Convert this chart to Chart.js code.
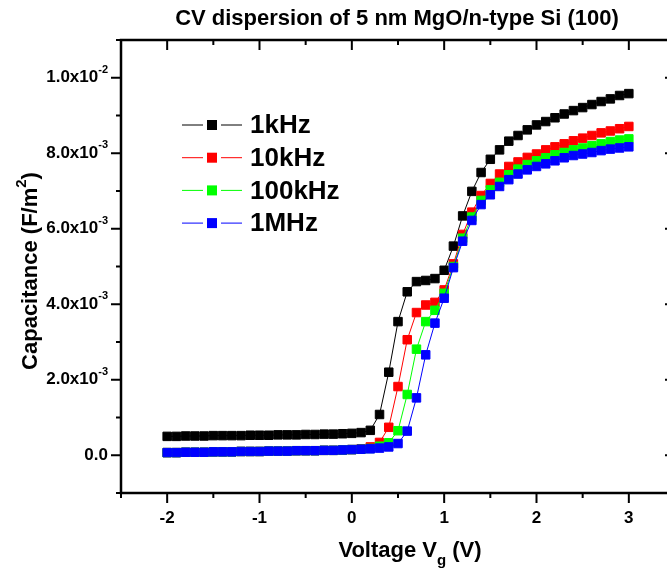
<!DOCTYPE html>
<html>
<head>
<meta charset="utf-8">
<script src="https://cdn.jsdelivr.net/npm/chart.js@4.4.1/dist/chart.umd.min.js"></script>
<style>
  html, body { margin: 0; padding: 0; background: #fff; overflow: hidden; }
  #wrap { width: 690px; height: 572px; }
</style>
</head>
<body>
<div id="wrap"><canvas id="cv" width="690" height="572"></canvas></div>
<script>
// Gate voltage (V)
const voltages = [
  -2.0, -1.9, -1.8, -1.7, -1.6, -1.5, -1.4, -1.3, -1.2, -1.1,
  -1.0, -0.9, -0.8, -0.7, -0.6, -0.5, -0.4, -0.3, -0.2, -0.1,
   0.0,  0.1,  0.2,  0.3,  0.4,  0.5,  0.6,  0.7,  0.8,  0.9,
   1.0,  1.1,  1.2,  1.3,  1.4,  1.5,  1.6,  1.7,  1.8,  1.9,
   2.0,  2.1,  2.2,  2.3,  2.4,  2.5,  2.6,  2.7,  2.8,  2.9,  3.0
];

// Capacitance, in units of 1e-3 F/m^2
const cap1kHz = [
  0.50, 0.50, 0.51, 0.51, 0.51, 0.52, 0.52, 0.52, 0.52, 0.53,
  0.53, 0.53, 0.54, 0.54, 0.54, 0.55, 0.55, 0.56, 0.56, 0.57,
  0.58, 0.60, 0.66, 1.08, 2.20, 3.54, 4.33, 4.60, 4.63, 4.68,
  4.90, 5.54, 6.34, 6.99, 7.49, 7.84, 8.09, 8.32, 8.47, 8.62,
  8.75, 8.84, 8.94, 9.04, 9.13, 9.21, 9.29, 9.37, 9.44, 9.53, 9.58
];
const cap10kHz = [
  0.07, 0.07, 0.08, 0.08, 0.08, 0.09, 0.09, 0.09, 0.10, 0.10,
  0.10, 0.11, 0.11, 0.11, 0.12, 0.12, 0.12, 0.13, 0.13, 0.14,
  0.15, 0.17, 0.22, 0.34, 0.74, 1.82, 3.06, 3.78, 3.98, 4.05,
  4.38, 5.07, 5.85, 6.44, 6.88, 7.20, 7.45, 7.65, 7.77, 7.89,
  7.98, 8.09, 8.17, 8.25, 8.33, 8.40, 8.47, 8.54, 8.59, 8.65, 8.71
];
const cap100kHz = [
  0.07, 0.07, 0.08, 0.08, 0.08, 0.09, 0.09, 0.09, 0.10, 0.10,
  0.10, 0.11, 0.11, 0.11, 0.12, 0.12, 0.12, 0.13, 0.13, 0.14,
  0.15, 0.16, 0.18, 0.24, 0.33, 0.65, 1.61, 2.81, 3.54, 3.84,
  4.29, 5.00, 5.75, 6.31, 6.75, 7.03, 7.23, 7.43, 7.58, 7.70,
  7.80, 7.88, 7.96, 8.02, 8.09, 8.14, 8.20, 8.25, 8.31, 8.35, 8.38
];
const cap1MHz = [
  0.07, 0.07, 0.08, 0.08, 0.08, 0.09, 0.09, 0.09, 0.10, 0.10,
  0.10, 0.11, 0.11, 0.11, 0.12, 0.12, 0.12, 0.13, 0.13, 0.14,
  0.15, 0.16, 0.17, 0.19, 0.22, 0.31, 0.64, 1.52, 2.66, 3.50,
  4.16, 4.97, 5.67, 6.22, 6.64, 6.90, 7.12, 7.30, 7.45, 7.56,
  7.65, 7.72, 7.80, 7.88, 7.94, 7.98, 8.02, 8.07, 8.11, 8.14, 8.17
];

const seriesLabels = ['1kHz', '10kHz', '100kHz', '1MHz'];
const seriesColors = ['#000000', '#ff0000', '#00ff00', '#0000ff'];

// y tick labels (value in 1e-3 units, mantissa, exponent)
const yTickValues = [0, 2, 4, 6, 8, 10];
const yTickMantissa = ['0.0', '2.0', '4.0', '6.0', '8.0', '1.0'];
const yTickExponent = ['', '-3', '-3', '-3', '-3', '-2'];

const titleText = 'CV dispersion of 5 nm MgO/n-type Si (100)';
const FONT = '"Liberation Sans", Arial, sans-serif';

function toPoints(ys) {
  return voltages.map((v, i) => ({ x: v, y: ys[i] }));
}

const allSeries = [cap1kHz, cap10kHz, cap100kHz, cap1MHz];
const datasets = allSeries.map((ys, i) => ({
  label: seriesLabels[i],
  data: toPoints(ys),
  borderColor: seriesColors[i],
  backgroundColor: seriesColors[i],
  borderWidth: 1,
  pointStyle: 'rect',
  pointRadius: 6,
  pointBorderWidth: 1,
  pointBorderColor: seriesColors[i],
  pointBackgroundColor: seriesColors[i],
  showLine: true,
  tension: 0,
  order: 4 - i
}));

// frame, ticks, custom labels, legend and titles
const decorPlugin = {
  id: 'decor',
  afterDraw(chart) {
    const ctx = chart.ctx;
    const { left, right, top, bottom } = chart.chartArea;
    const xs = chart.scales.x;
    const ys = chart.scales.y;
    ctx.save();
    ctx.strokeStyle = '#000';
    ctx.fillStyle = '#000';
    ctx.lineWidth = 2.5;
    ctx.strokeRect(left, top, right - left, bottom - top);

    // x ticks: outward on bottom, inward on top
    ctx.lineWidth = 2;
    xs.ticks.forEach(t => {
      const px = xs.getPixelForValue(t.value);
      const major = Math.abs(t.value - Math.round(t.value)) < 1e-6;
      const len = major ? 10 : 5;
      ctx.beginPath();
      ctx.moveTo(px, bottom);
      ctx.lineTo(px, bottom + len);
      ctx.moveTo(px, top);
      ctx.lineTo(px, top + len);
      ctx.stroke();
    });
    // y ticks: outward on left, inward on right
    ys.ticks.forEach(t => {
      const py = ys.getPixelForValue(t.value);
      const major = Math.abs(Math.round(t.value) % 2) === 0;
      const len = major ? 10 : 5;
      ctx.beginPath();
      ctx.moveTo(left - len, py);
      ctx.lineTo(left, py);
      ctx.moveTo(right - len, py);
      ctx.lineTo(right, py);
      ctx.stroke();
    });

    // y tick labels with superscript exponent
    const mainFont = 'bold 17px ' + FONT;
    const supFont = 'bold 11px ' + FONT;
    const labelRight = left - 13;
    ctx.textBaseline = 'middle';
    yTickValues.forEach((v, i) => {
      const py = ys.getPixelForValue(v);
      const exp = yTickExponent[i];
      const mant = exp ? yTickMantissa[i] + 'x10' : yTickMantissa[i];
      ctx.font = supFont;
      const ew = exp ? ctx.measureText(exp).width : 0;
      ctx.font = mainFont;
      const mw = ctx.measureText(mant).width;
      const x0 = labelRight - ew - mw;
      ctx.textAlign = 'left';
      ctx.fillText(mant, x0, py);
      if (exp) {
        ctx.font = supFont;
        ctx.fillText(exp, x0 + mw, py - 8);
      }
    });

    // legend
    ctx.font = 'bold 26px ' + FONT;
    chart.data.datasets.forEach((ds, i) => {
      const cy = 125 + i * 32.7;
      ctx.strokeStyle = ds.borderColor;
      ctx.lineWidth = 1;
      ctx.beginPath();
      ctx.moveTo(182, cy);
      ctx.lineTo(203, cy);
      ctx.moveTo(221, cy);
      ctx.lineTo(242, cy);
      ctx.stroke();
      ctx.fillStyle = ds.backgroundColor;
      ctx.fillRect(207, cy - 5, 10, 10);
      ctx.fillStyle = '#000';
      ctx.textAlign = 'left';
      ctx.textBaseline = 'middle';
      ctx.fillText(ds.label, 250, cy + 1);
    });

    // title
    ctx.fillStyle = '#000';
    ctx.font = 'bold 22px ' + FONT;
    ctx.textAlign = 'center';
    ctx.textBaseline = 'middle';
    ctx.fillText(titleText, 397, 19);

    // x axis title with subscript g
    const xMain = 'Voltage V';
    const xTail = ' (V)';
    ctx.font = 'bold 22px ' + FONT;
    const w1 = ctx.measureText(xMain).width;
    const w3 = ctx.measureText(xTail).width;
    ctx.font = 'bold 15px ' + FONT;
    const w2 = ctx.measureText('g').width;
    let sx = 410 - (w1 + w2 + w3) / 2;
    const sy = 551;
    ctx.textAlign = 'left';
    ctx.font = 'bold 22px ' + FONT;
    ctx.fillText(xMain, sx, sy);
    ctx.font = 'bold 15px ' + FONT;
    ctx.fillText('g', sx + w1, sy + 10);
    ctx.font = 'bold 22px ' + FONT;
    ctx.fillText(xTail, sx + w1 + w2, sy);

    // y axis title with superscript 2
    ctx.translate(31, 271);
    ctx.rotate(-Math.PI / 2);
    const yMain = 'Capacitance (F/m';
    ctx.font = 'bold 22px ' + FONT;
    const yw1 = ctx.measureText(yMain).width;
    const yw3 = ctx.measureText(')').width;
    ctx.font = 'bold 15px ' + FONT;
    const yw2 = ctx.measureText('2').width;
    let tx = -(yw1 + yw2 + yw3) / 2;
    ctx.font = 'bold 22px ' + FONT;
    ctx.fillText(yMain, tx, 0);
    ctx.font = 'bold 15px ' + FONT;
    ctx.fillText('2', tx + yw1, -9);
    ctx.font = 'bold 22px ' + FONT;
    ctx.fillText(')', tx + yw1 + yw2, 0);
    ctx.restore();
  }
};

new Chart(document.getElementById('cv'), {
  type: 'scatter',
  data: { datasets: datasets },
  options: {
    responsive: false,
    animation: false,
    layout: { padding: { top: 40, right: 13, left: 0, bottom: 0 } },
    plugins: { legend: { display: false }, tooltip: { enabled: false } },
    scales: {
      x: {
        type: 'linear',
        min: -2.5,
        max: 3.5,
        grid: { display: false, drawTicks: false },
        border: { display: false },
        ticks: {
          stepSize: 0.5,
          padding: 15,
          color: '#000',
          font: { family: FONT, size: 17, weight: 'bold' },
          maxRotation: 0,
          autoSkip: false,
          callback: v => Math.abs(v - Math.round(v)) < 1e-6 && v > -2.5 && v < 3.5 ? String(Math.round(v)) : ''
        },
        afterFit: s => { s.height = 79; }
      },
      y: {
        type: 'linear',
        min: -1,
        max: 11,
        grid: { display: false, drawTicks: false },
        border: { display: false },
        ticks: { stepSize: 1, display: false },
        afterFit: s => { s.width = 121; }
      }
    }
  },
  plugins: [decorPlugin]
});
</script>
</body>
</html>
